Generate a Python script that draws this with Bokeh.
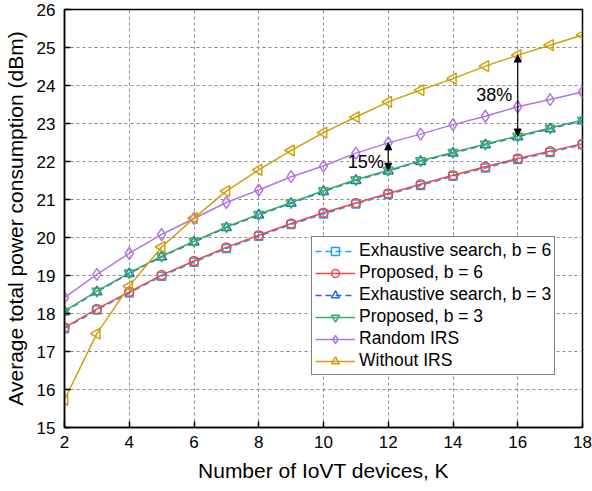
from bokeh.plotting import figure
from bokeh.models import Range1d, FixedTicker, Legend, LegendItem, Arrow, NormalHead, ColumnDataSource
from bokeh.core.properties import value
from bokeh.embed import file_html
from bokeh.resources import INLINE

FONT = "Liberation Sans"

# Number of IoVT devices
K = [2, 3, 4, 5, 6, 7, 8, 9, 10, 11, 12, 13, 14, 15, 16, 17, 18]

# Average total power consumption (dBm) per scheme
exhaustive_b6 = [17.60, 18.09, 18.54, 18.98, 19.35, 19.71, 20.03, 20.34, 20.62,
                 20.88, 21.13, 21.37, 21.61, 21.83, 22.05, 22.24, 22.44]
proposed_b6 = [17.63, 18.12, 18.57, 19.01, 19.38, 19.74, 20.06, 20.37, 20.65,
               20.91, 21.16, 21.40, 21.64, 21.86, 22.08, 22.27, 22.47]
exhaustive_b3 = [18.04, 18.57, 19.05, 19.49, 19.88, 20.26, 20.59, 20.90, 21.21,
                 21.50, 21.75, 22.00, 22.22, 22.44, 22.65, 22.86, 23.07]
proposed_b3 = [18.06, 18.59, 19.07, 19.51, 19.90, 20.28, 20.61, 20.92, 21.23,
               21.52, 21.77, 22.02, 22.24, 22.46, 22.67, 22.88, 23.09]
random_irs = [18.42, 19.03, 19.58, 20.08, 20.50, 20.92, 21.25, 21.60, 21.88,
              22.22, 22.49, 22.72, 22.97, 23.19, 23.44, 23.63, 23.83]
without_irs = [15.73, 17.47, 18.72, 19.75, 20.51, 21.22, 21.78, 22.29, 22.76,
               23.17, 23.57, 23.88, 24.18, 24.51, 24.80, 25.06, 25.33]

x_ticks = [2, 4, 6, 8, 10, 12, 14, 16, 18]
y_ticks = [15, 16, 17, 18, 19, 20, 21, 22, 23, 24, 25, 26]

p = figure(width=592, height=491, output_backend="svg", toolbar_location=None,
           x_range=Range1d(2, 18), y_range=Range1d(15, 26),
           min_border_left=63, min_border_right=10, min_border_top=9, min_border_bottom=64)

p.background_fill_color = "white"
p.border_fill_color = "white"
p.outline_line_color = "black"
p.outline_line_width = 1.5
p.outline_line_alpha = 1

p.xaxis.ticker = FixedTicker(ticks=x_ticks)
p.yaxis.ticker = FixedTicker(ticks=y_ticks)
for ax in (p.xaxis, p.yaxis):
    ax.axis_line_width = 1.5
    ax.axis_line_color = "black"
    ax.major_tick_in = 6
    ax.major_tick_out = 0
    ax.major_tick_line_width = 1.5
    ax.minor_tick_line_color = None
    ax.major_label_text_font = FONT
    ax.major_label_text_font_size = "17px"
    ax.major_label_text_color = "black"
    ax.axis_label_text_font = FONT
    ax.axis_label_text_font_size = "21px"
    ax.axis_label_text_font_style = "normal"
    ax.axis_label_text_color = "black"
p.xaxis.major_label_standoff = 8
p.yaxis.major_label_standoff = 9
p.xaxis.axis_label_standoff = 8
p.yaxis.axis_label_standoff = 7
p.xaxis.axis_label = "Number of IoVT devices, K"
p.yaxis.axis_label = "Average total power consumption (dBm)"

for g in (p.xgrid, p.ygrid):
    g.grid_line_color = "#888888"
    g.grid_line_dash = "3 3"
    g.grid_line_width = 1

# label, values, colour, marker, size, rotation (deg), dash
series = [
    ("Exhaustive search, b = 6", exhaustive_b6, "#1fa2f5", "square", 8, 0, "6 4"),
    ("Proposed, b = 6", proposed_b6, "#f04646", "circle", 9, 0, "solid"),
    ("Exhaustive search, b = 3", exhaustive_b3, "#2766d8", "triangle", 10, 0, "6 4"),
    ("Proposed, b = 3", proposed_b3, "#3aae66", "inverted_triangle", 10, 0, "solid"),
    ("Random IRS", random_irs, "#b276e2", "diamond", 12, 0, "solid"),
    ("Without IRS", without_irs, "#d29f0e", "triangle", 11, 90, "solid"),
]

items = []
for label, ys, color, marker, size, rot, dash in series:
    src = ColumnDataSource(dict(k=K, v=ys, rot=[rot] * len(K)))
    ln = p.line("k", "v", source=src, line_color=color, line_width=1.5, line_dash=dash)
    sc = p.scatter("k", "v", source=src, marker=marker, size=size,
                   angle="rot", angle_units="deg",
                   line_color=color, line_width=1.5, fill_color=None)
    items.append(LegendItem(label=label, renderers=[ln, sc]))

legend = Legend(items=items, location=(247, 52))
legend.label_text_font = FONT
legend.label_text_font_size = "17.5px"
legend.label_text_color = "black"
legend.glyph_width = 40
legend.glyph_height = 20
legend.label_height = 20
legend.label_standoff = 4
legend.spacing = 1
legend.padding = 3
legend.margin = 0
legend.border_line_color = "black"
legend.border_line_width = 1.5
legend.background_fill_alpha = 1
p.add_layout(legend, "center")

# Gap arrows between schemes
i12 = K.index(12)
i16 = K.index(16)
for k_idx, top, bottom in ((i12, random_irs, proposed_b3), (i16, without_irs, proposed_b3)):
    p.add_layout(Arrow(
        start=NormalHead(size=7, fill_color="black", line_color="black", line_width=1),
        end=NormalHead(size=7, fill_color="black", line_color="black", line_width=1),
        x_start=K[k_idx], y_start=top[k_idx], x_end=K[k_idx], y_end=bottom[k_idx],
        line_color="black", line_width=1.2))

p.text(x=[11.86, 15.83], y=[22.0, 23.75], text=["15%", "38%"],
       text_align="right", text_baseline="middle",
       text_font=value(FONT), text_font_size="18px", text_color="black")

open("out.html", "w").write(file_html(p, INLINE))
